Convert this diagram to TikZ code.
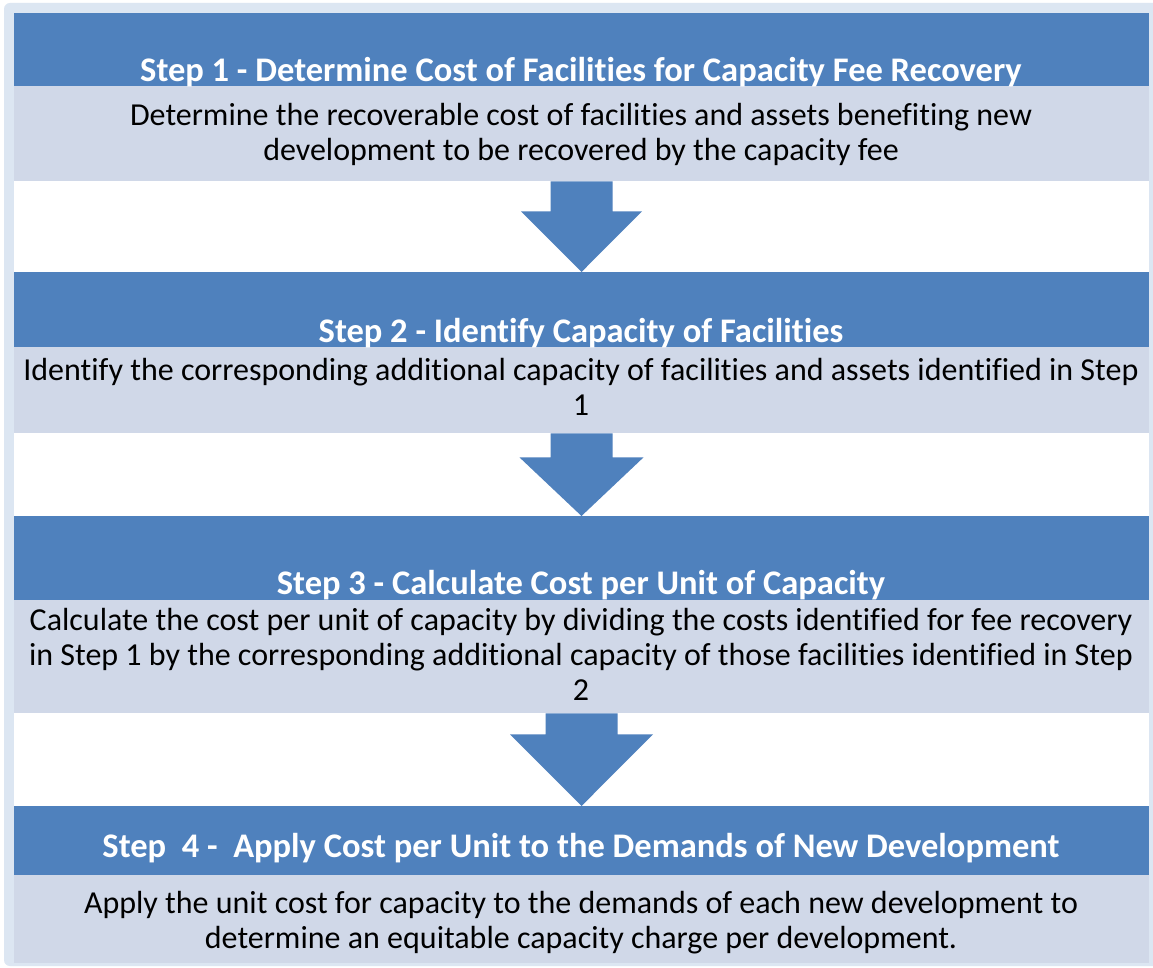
\documentclass[tikz,border=0pt]{standalone}
\usepackage{fontspec}
\setmainfont{Carlito}[Ligatures=NoCommon]
\usetikzlibrary{calc}
\definecolor{hdblue}{HTML}{4F81BD}
\definecolor{bodyfill}{HTML}{D0D8E8}
\definecolor{panelfill}{HTML}{DCE6F2}
\newcommand\stepdownarrow[5]{% from node, to node, shaft half width, shoulder drop, head half width
  \fill[hdblue] ($(#1.south)+(-#3,0)$) -- ($(#1.south)+(#3,0)$) -- ($(#1.south)+(#3,#4)$)
    -- ($(#1.south)+(#5,#4)$) -- (#2.north) -- ($(#1.south)+(-#5,#4)$)
    -- ($(#1.south)+(-#3,#4)$) -- cycle;}
\begin{document}
\begin{tikzpicture}[x=1pt,y=-1pt,
  headbox/.style={fill=hdblue, inner sep=0, minimum width=1135pt, anchor=north},
  bodybox/.style={fill=bodyfill, inner sep=0, minimum width=1135pt, anchor=north},
  titletext/.style={text=white, font=\fontsize{34.5}{40}\selectfont\bfseries, anchor=base, inner sep=0},
  bodytext/.style={text=black, font=\fontsize{32}{35}\selectfont, align=center, inner sep=0}]
\useasboundingbox (0,0) rectangle (1153,968);
\fill[white] (0,0) rectangle (1153,968);
\begin{scope}
  \clip (0,0) rectangle (1153,968);
  \fill[panelfill, rounded corners=6pt] (4,3) rectangle (1170,966);
\end{scope}
\fill[white] (14,13) rectangle (1149,963);

% step boxes: heading bar and description band
\node[headbox, minimum height=73pt] (h1) at (581.5,13) {};
\node[bodybox, minimum height=95pt] (b1) at (581.5,86) {};
\node[headbox, minimum height=75pt] (h2) at (581.5,272) {};
\node[bodybox, minimum height=86pt] (b2) at (581.5,347) {};
\node[headbox, minimum height=84pt] (h3) at (581.5,516) {};
\node[bodybox, minimum height=113pt] (b3) at (581.5,600) {};
\node[headbox, minimum height=69pt] (h4) at (581.5,806) {};
\node[bodybox, minimum height=88pt] (b4) at (581.5,875) {};

% headings
\node[titletext] (t1) at (581,82) {Step 1 - Determine Cost of Facilities for Capacity Fee Recovery};
\node[titletext] (t2) at (581,342) {Step 2 - Identify Capacity of Facilities};
\node[titletext] (t3) at (581,594) {Step 3 - Calculate Cost per Unit of Capacity};
\node[titletext] (t4) at (581,857) {Step\ \ 4 -\ \ Apply Cost per Unit to the Demands of New Development};

% descriptions
\node[bodytext] (d1) at (581,134) {Determine the recoverable cost of facilities and assets benefiting new\\development to be recovered by the capacity fee};
\node[bodytext] (d2) at (581,387) {Identify the corresponding additional capacity of facilities and assets identified in Step\\1};
\node[bodytext] (d3) at (581,654) {Calculate the cost per unit of capacity by dividing the costs identified for fee recovery\\in Step 1 by the corresponding additional capacity of those facilities identified in Step\\2};
\node[bodytext] (d4) at (581,922.5) {Apply the unit cost for capacity to the demands of each new development to\\determine an equitable capacity charge per development.};

% block arrows between the steps
\stepdownarrow{b1}{h2}{31}{30}{60.5}
\stepdownarrow{b2}{h3}{31}{24}{62}
\stepdownarrow{b3}{h4}{36}{21}{71.5}
\end{tikzpicture}
\end{document}
